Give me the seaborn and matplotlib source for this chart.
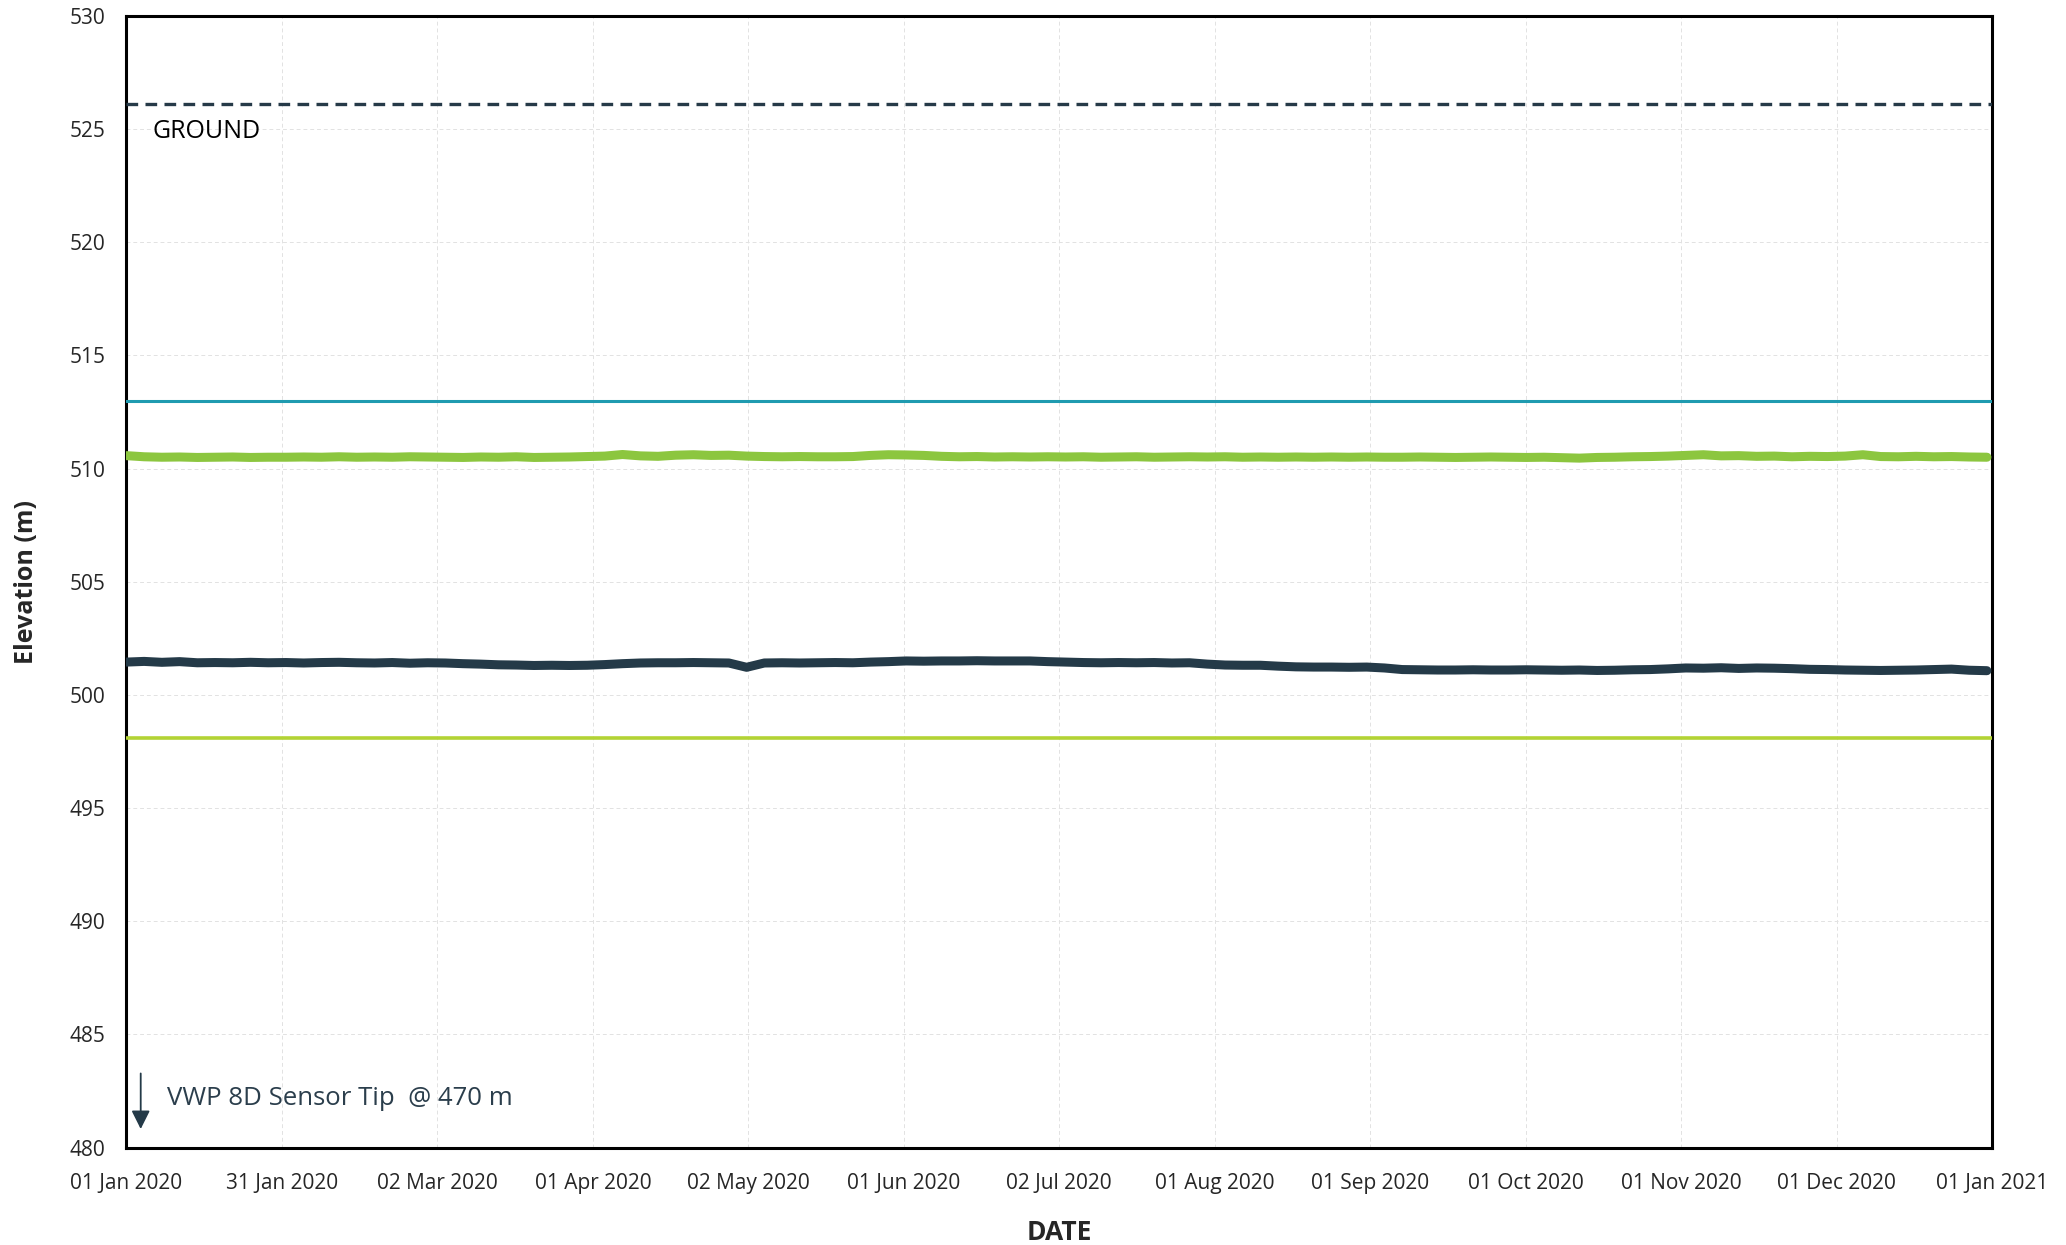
import pandas as pd
import matplotlib.pyplot as plt
import seaborn as sns

# Readings (about twice a week)
start = pd.Timestamp("2020-01-01")
end = pd.Timestamp("2021-01-01")
reading_dates = pd.date_range("2020-01-01", "2020-12-31", periods=106)

upper_level = [510.57, 510.52, 510.50, 510.51, 510.49, 510.50, 510.51, 510.49, 510.50,
               510.50, 510.51, 510.50, 510.52, 510.50, 510.51, 510.50, 510.52, 510.51,
               510.50, 510.49, 510.51, 510.50, 510.52, 510.49, 510.50, 510.51, 510.53,
               510.55, 510.62, 510.56, 510.54, 510.59, 510.61, 510.58, 510.59,
               510.55,
               510.53, 510.52, 510.53, 510.52, 510.52, 510.53, 510.58, 510.61,
               510.60, 510.58, 510.54, 510.52, 510.53, 510.51, 510.52, 510.51,
               510.52, 510.51, 510.52, 510.50, 510.51, 510.52, 510.50, 510.51, 510.52,
               510.51, 510.52, 510.50, 510.51, 510.50, 510.51, 510.50, 510.51, 510.50,
               510.51, 510.50, 510.50, 510.51, 510.50, 510.49, 510.50, 510.51, 510.50,
               510.49, 510.50, 510.48, 510.46, 510.49, 510.50, 510.52, 510.53, 510.55,
               510.58, 510.61, 510.56, 510.57, 510.54, 510.55, 510.52, 510.54, 510.53,
               510.55, 510.61, 510.53, 510.52, 510.54, 510.52, 510.53, 510.51, 510.50]

lower_level = [501.45, 501.48, 501.44, 501.47, 501.42, 501.43, 501.42, 501.44, 501.42,
               501.43, 501.41, 501.43, 501.44, 501.42, 501.41, 501.43, 501.40, 501.42,
               501.41, 501.38, 501.36, 501.33, 501.32, 501.30, 501.31, 501.30, 501.31,
               501.34, 501.38, 501.41, 501.42, 501.42, 501.43, 501.42, 501.41,
               501.22,
               501.41, 501.42, 501.41, 501.42, 501.43, 501.42, 501.45, 501.47,
               501.50, 501.49, 501.50, 501.50, 501.51, 501.50, 501.50, 501.50,
               501.47, 501.45, 501.43, 501.42, 501.43, 501.42, 501.43, 501.41, 501.42,
               501.36, 501.32, 501.31, 501.31, 501.27, 501.24, 501.23, 501.23, 501.22,
               501.23, 501.19, 501.12, 501.11, 501.10, 501.10, 501.11, 501.10, 501.10,
               501.11, 501.10, 501.09, 501.10, 501.08, 501.09, 501.11, 501.12, 501.15,
               501.19, 501.18, 501.20, 501.17, 501.19, 501.18, 501.16, 501.13, 501.12,
               501.10, 501.09, 501.08, 501.09, 501.10, 501.12, 501.14, 501.09, 501.07]

# Reference levels
ground_level = 526.1
teal_level = 513.0
lime_level = 498.1
sensor_tip = 470

tick_labels = ["01 Jan 2020", "31 Jan 2020", "02 Mar 2020", "01 Apr 2020", "02 May 2020",
               "01 Jun 2020", "02 Jul 2020", "01 Aug 2020", "01 Sep 2020", "01 Oct 2020",
               "01 Nov 2020", "01 Dec 2020", "01 Jan 2021"]

df = pd.DataFrame({"Date": reading_dates, "upper": upper_level, "lower": lower_level})

sns.set_style("white")
plt.rcParams["font.family"] = ["Open Sans", "DejaVu Sans"]

fig, ax = plt.subplots(figsize=(20.66, 12.45), dpi=100)
fig.subplots_adjust(left=0.0612, right=0.9642, top=0.9873, bottom=0.0782)

# Horizontal reference lines
ax.axhline(ground_level, color="#263a48", linewidth=2.4, linestyle=(0, (3.5, 2.2)), zorder=3)
ax.axhline(teal_level, color="#1f9bb0", linewidth=2.2, zorder=3)
ax.axhline(lime_level, color="#b3d334", linewidth=2.6, zorder=3)

# Measured series
sns.lineplot(data=df, x="Date", y="upper", ax=ax, color="#8cc63f", linewidth=6.5, zorder=4)
sns.lineplot(data=df, x="Date", y="lower", ax=ax, color="#243a48", linewidth=6.5, zorder=4)

ax.set_xlim(start, end)
ax.set_ylim(480, 530)
ax.set_yticks(range(480, 531, 5))
ax.set_xticks(pd.date_range(start, end, periods=len(tick_labels)))
ax.set_xticklabels(tick_labels)

ax.grid(True, color="#e2e2e2", linestyle=(0, (4, 3)), linewidth=0.7)
for s in ax.spines.values():
    s.set_color("black")
    s.set_linewidth(2.2)
ax.tick_params(axis="both", labelsize=15, length=8, width=1, color="#555555", pad=7)
ax.tick_params(axis="x", pad=10)

ax.set_xlabel("DATE", fontsize=19, fontweight="bold", labelpad=18)
ax.set_ylabel("Elevation (m)", fontsize=18, fontweight="bold", labelpad=22)

ax.text(start + pd.Timedelta(days=5.2), 524.9, "GROUND", fontsize=18, color="black", va="center")
ax.annotate("", xy=(start + pd.Timedelta(days=2.8), 480.7),
            xytext=(start + pd.Timedelta(days=2.8), 483.4),
            arrowprops=dict(arrowstyle="-|>", color="#243a48", lw=1.3, mutation_scale=28))
ax.text(start + pd.Timedelta(days=8), 482.15, f"VWP 8D Sensor Tip  @ {sensor_tip} m",
        fontsize=18.5, color="#2b3e4c", va="center")

plt.savefig("out.png", dpi=100)
